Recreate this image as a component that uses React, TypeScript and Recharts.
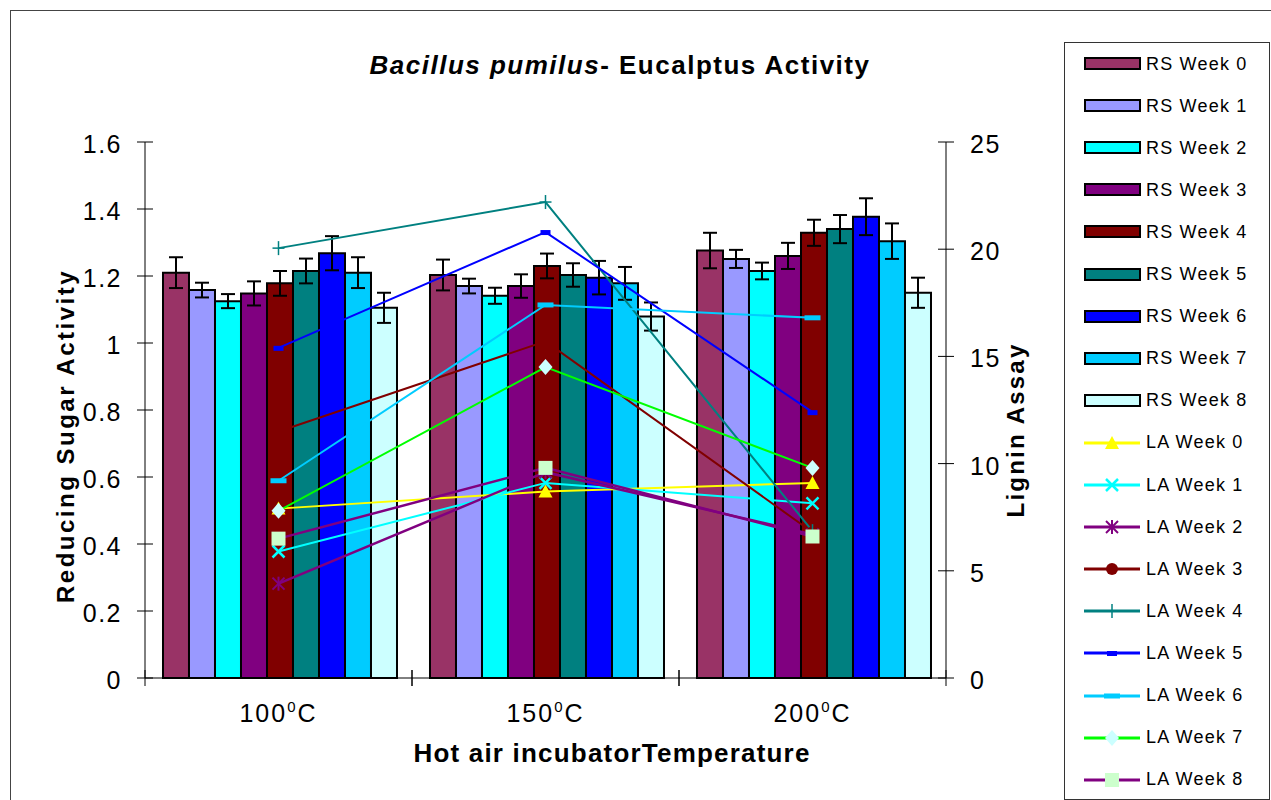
import React from 'react';
import { ComposedChart, Bar, Line, XAxis, YAxis, ErrorBar } from 'recharts';

const categories = ['100', '150', '200'];
const weeks = [0, 1, 2, 3, 4, 5, 6, 7, 8];

// reducing sugar activity (left axis), one list per week, values at 100/150/200
const rsMean = [
  [1.21, 1.203, 1.276],
  [1.158, 1.17, 1.251],
  [1.125, 1.141, 1.215],
  [1.148, 1.17, 1.26],
  [1.178, 1.23, 1.329],
  [1.215, 1.203, 1.34],
  [1.268, 1.195, 1.377],
  [1.21, 1.178, 1.304],
  [1.105, 1.079, 1.15],
];
const rsErr = [
  [0.046, 0.046, 0.053],
  [0.022, 0.022, 0.027],
  [0.021, 0.024, 0.025],
  [0.036, 0.035, 0.039],
  [0.037, 0.037, 0.039],
  [0.037, 0.035, 0.042],
  [0.051, 0.05, 0.055],
  [0.046, 0.049, 0.053],
  [0.045, 0.042, 0.045],
];
// lignin assay (right axis)
const laValues = [
  [7.9, 8.7, 9.1],
  [5.9, 9.1, 8.15],
  [4.4, 9.6, 6.7],
  [11.5, 15.7, 6.8],
  [20.05, 22.2, 6.85],
  [15.4, 20.8, 12.4],
  [9.2, 17.4, 16.8],
  [7.8, 14.5, 9.8],
  [6.5, 9.8, 6.6],
];
const leftTicks = [0, 0.2, 0.4, 0.6, 0.8, 1, 1.2, 1.4, 1.6];
const rightTicks = [0, 5, 10, 15, 20, 25];

const RS_COLORS = ['#993366', '#9999FF', '#00FFFF', '#800080', '#800000', '#008080', '#0000FF', '#00CCFF', '#CCFFFF'];
const LA_COLORS = ['#FFFF00', '#00FFFF', '#800080', '#800000', '#008080', '#0000FF', '#00CCFF', '#00FF00', '#800080'];
const LA_MARKERS = ['triangle', 'x', 'star', 'circle', 'plus', 'dash', 'longdash', 'diamond', 'square'];
const MARKER_FILL: Record<string, string> = { diamond: '#CCFFFF', square: '#CCFFCC' };

const FONT = '"Liberation Sans", Arial, sans-serif';
const PLOT_W = 801;

const data = categories.map((name, i) => {
  const row: Record<string, number | string> = { name };
  weeks.forEach((w) => {
    row[`rs${w}`] = rsMean[w][i];
    row[`rsErr${w}`] = rsErr[w][i];
    row[`la${w}`] = laValues[w][i];
  });
  return row;
});

const marker = (kind: string, color: string, cx: number, cy: number, key?: string) => {
  const fill = MARKER_FILL[kind] || color;
  switch (kind) {
    case 'triangle':
      return <polygon key={key} points={`${cx},${cy - 7} ${cx - 7},${cy + 6} ${cx + 7},${cy + 6}`} fill={fill} />;
    case 'x':
      return (
        <g key={key} stroke={color} strokeWidth={2.5}>
          <line x1={cx - 6} y1={cy - 6} x2={cx + 6} y2={cy + 6} />
          <line x1={cx - 6} y1={cy + 6} x2={cx + 6} y2={cy - 6} />
        </g>
      );
    case 'star':
      return (
        <g key={key} stroke={color} strokeWidth={2}>
          <line x1={cx - 6} y1={cy - 6} x2={cx + 6} y2={cy + 6} />
          <line x1={cx - 6} y1={cy + 6} x2={cx + 6} y2={cy - 6} />
          <line x1={cx} y1={cy - 7} x2={cx} y2={cy + 7} />
        </g>
      );
    case 'circle':
      return <circle key={key} cx={cx} cy={cy} r={6} fill={fill} />;
    case 'plus':
      return (
        <g key={key} stroke={color} strokeWidth={1.5}>
          <line x1={cx - 6} y1={cy} x2={cx + 6} y2={cy} />
          <line x1={cx} y1={cy - 7} x2={cx} y2={cy + 7} />
        </g>
      );
    case 'dash':
      return <rect key={key} x={cx - 5} y={cy - 2} width={10} height={5} fill={fill} />;
    case 'longdash':
      return <rect key={key} x={cx - 8} y={cy - 2.5} width={16} height={5} fill={fill} />;
    case 'diamond':
      return <polygon key={key} points={`${cx},${cy - 8} ${cx + 7},${cy} ${cx},${cy + 8} ${cx - 7},${cy}`} fill={fill} />;
    default:
      return <rect key={key} x={cx - 7} y={cy - 7} width={14} height={14} fill={fill} />;
  }
};

const LeftTick = ({ x, y, payload }: any) => (
  <g>
    <line x1={x + 15} x2={x + 31} y1={y} y2={y} stroke="#000" />
    <text x={x} y={y} dy={11} textAnchor="end" fontFamily={FONT} fontSize={25} letterSpacing={1.5} fill="#000">
      {payload.value}
    </text>
  </g>
);

const RightTick = ({ x, y, payload }: any) => (
  <g>
    <line x1={x - 32} x2={x - 16} y1={y} y2={y} stroke="#000" />
    <text x={x} y={y} dy={11} textAnchor="start" fontFamily={FONT} fontSize={25} letterSpacing={1.5} fill="#000">
      {payload.value}
    </text>
  </g>
);

const CategoryTick = ({ x, y, payload }: any) => {
  const half = PLOT_W / categories.length / 2;
  return (
    <g>
      <line x1={x - half} x2={x - half} y1={y - 24} y2={y - 8} stroke="#000" />
      <line x1={x + half} x2={x + half} y1={y - 24} y2={y - 8} stroke="#000" />
      <text x={x} y={y} dy={28} textAnchor="middle" fontFamily={FONT} fontSize={25} letterSpacing={2} fill="#000">
        {payload.value}
        <tspan fontSize={15} dy={-10}>0</tspan>
        <tspan dy={10}>C</tspan>
      </text>
    </g>
  );
};

const Legend = () => (
  <div
    style={{
      position: 'absolute',
      left: 1064,
      top: 42,
      width: 204,
      height: 756,
      border: '1px solid #333',
      background: '#fff',
      fontFamily: FONT,
      fontSize: 18,
      letterSpacing: 1.2,
    }}
  >
    {weeks.map((w, i) => (
      <div key={`rs${w}`} style={{ position: 'absolute', left: 19, top: i * 42.1, height: 42, display: 'flex', alignItems: 'center' }}>
        <svg width={62} height={20}>
          <rect x={1} y={4} width={55} height={11} fill={RS_COLORS[w]} stroke="#000" strokeWidth={2} />
        </svg>
        <span>RS Week {w}</span>
      </div>
    ))}
    {weeks.map((w, i) => (
      <div key={`la${w}`} style={{ position: 'absolute', left: 19, top: (i + 9) * 42.1, height: 42, display: 'flex', alignItems: 'center' }}>
        <svg width={62} height={20}>
          <line x1={0} x2={56} y1={10} y2={10} stroke={LA_COLORS[w]} strokeWidth={3} />
          {marker(LA_MARKERS[w], LA_COLORS[w], 28, 10)}
        </svg>
        <span>LA Week {w}</span>
      </div>
    ))}
  </div>
);

export default function App() {
  return (
    <div style={{ position: 'fixed', left: 0, top: 0, width: 1271, height: 800, overflow: 'hidden', background: '#fff' }}>
      <div style={{ position: 'absolute', left: 10, top: 10, width: 1400, height: 900, borderTop: '1px solid #444', borderLeft: '1px solid #444' }} />
      <div style={{ position: 'absolute', left: 0, top: 0 }}>
        <ComposedChart
          width={1271}
          height={800}
          data={data}
          margin={{ top: 142, right: 225, bottom: 82, left: 0 }}
          barCategoryGap="6.74%"
          barGap={0}
        >
          <XAxis
            dataKey="name"
            height={40}
            interval={0}
            tickSize={8}
            tickMargin={8}
            tickLine={false}
            axisLine={{ stroke: '#000' }}
            tick={<CategoryTick />}
          />
          <YAxis
            yAxisId="left"
            orientation="left"
            width={145}
            domain={[0, 1.6]}
            ticks={leftTicks}
            tickSize={8}
            tickMargin={15}
            tickLine={false}
            axisLine={{ stroke: '#000' }}
            tick={<LeftTick />}
          />
          <YAxis
            yAxisId="right"
            orientation="right"
            width={100}
            domain={[0, 25]}
            ticks={rightTicks}
            tickSize={8}
            tickMargin={16}
            tickLine={false}
            axisLine={{ stroke: '#000' }}
            tick={<RightTick />}
          />
          {weeks.map((w) => (
            <Bar
              key={`rs${w}`}
              yAxisId="left"
              dataKey={`rs${w}`}
              name={`RS Week ${w}`}
              fill={RS_COLORS[w]}
              stroke="#000"
              strokeWidth={2}
              isAnimationActive={false}
            >
              <ErrorBar dataKey={`rsErr${w}`} width={7} stroke="#000" strokeWidth={2} direction="y" />
            </Bar>
          ))}
          {weeks.map((w) => (
            <Line
              key={`la${w}`}
              yAxisId="right"
              type="linear"
              dataKey={`la${w}`}
              name={`LA Week ${w}`}
              stroke={LA_COLORS[w]}
              strokeWidth={w === 2 || w === 8 ? 2.5 : 2}
              activeDot={false}
              isAnimationActive={false}
              dot={(p: any) => marker(LA_MARKERS[w], LA_COLORS[w], p.cx, p.cy, `d${w}-${p.index}`)}
            />
          ))}
          <text x={620} y={74} textAnchor="middle" fontFamily={FONT} fontSize={26} fontWeight="bold" letterSpacing={1.5} fill="#000">
            <tspan fontStyle="italic">Bacillus pumilus</tspan>
            <tspan>- Eucalptus Activity</tspan>
          </text>
          <text x={612} y={762} textAnchor="middle" fontFamily={FONT} fontSize={26} fontWeight="bold" letterSpacing={1.2} fill="#000">
            Hot air incubatorTemperature
          </text>
          <text transform="translate(74,436) rotate(-90)" textAnchor="middle" fontFamily={FONT} fontSize={24} fontWeight="bold" letterSpacing={2.5} fill="#000">
            Reducing Sugar Activity
          </text>
          <text transform="translate(1024,430) rotate(-90)" textAnchor="middle" fontFamily={FONT} fontSize={24} fontWeight="bold" letterSpacing={2.2} fill="#000">
            Lignin Assay
          </text>
        </ComposedChart>
      </div>
      <Legend />
    </div>
  );
}
